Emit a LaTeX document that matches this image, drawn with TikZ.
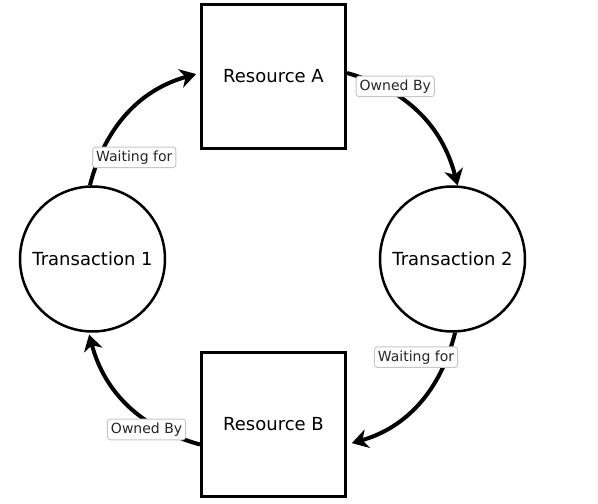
\documentclass[tikz,border=0pt]{standalone}
\usepackage{fontspec}
\setmainfont{DejaVu Sans}
\usetikzlibrary{arrows.meta}
\tikzset{
  resbox/.style={draw, line width=3pt, minimum size=144pt, inner sep=0pt},
  txcircle/.style={draw, circle, line width=2.5pt, minimum size=145pt, inner sep=0pt},
  flow/.style={line width=4pt, -{Stealth[length=16pt,width=19pt,inset=5pt]}},
  tag/.style={draw=black!22, fill=white, rounded corners=3pt, line width=1pt,
    inner sep=3.5pt, text=black!85, font=\fontsize{14}{16}\selectfont}
}

\begin{document}
\begin{tikzpicture}[x=1pt, y=1pt, every node/.style={font=\fontsize{18}{21}\selectfont}]
  \useasboundingbox (0,0) rectangle (598,504);

  % Resources
  \node[resbox] (resA) at (273.5,427.5) {Resource A};
  \node[resbox] (resB) at (273.5,79.5) {Resource B};
  % Transactions
  \node[txcircle] (tx1) at (92.5,245) {Transaction 1};
  \node[txcircle] (tx2) at (452.5,245) {Transaction 2};

  % Wait-for cycle
  \draw[flow, shorten >=4pt] (tx1.92) to[bend left=30]
    node[tag, pos=0.1, anchor=south west, xshift=-3pt] {Waiting for} ([yshift=3.5pt]resA.west);
  \draw[flow] ([yshift=3.5pt]resA.east) to[bend left=30]
    node[tag, pos=0.05, anchor=north west] {Owned By} (tx2.86);
  \draw[flow, shorten >=5pt] (tx2.-88) to[bend left=30]
    node[tag, pos=0.08, anchor=north east, xshift=7pt] {Waiting for} ([yshift=-20pt]resB.east);
  \draw[flow, shorten >=2pt] ([yshift=-20pt]resB.west) to[bend left=30]
    node[tag, pos=0.08, anchor=south east] {Owned By} (tx1.-93);

\end{tikzpicture}
\end{document}
